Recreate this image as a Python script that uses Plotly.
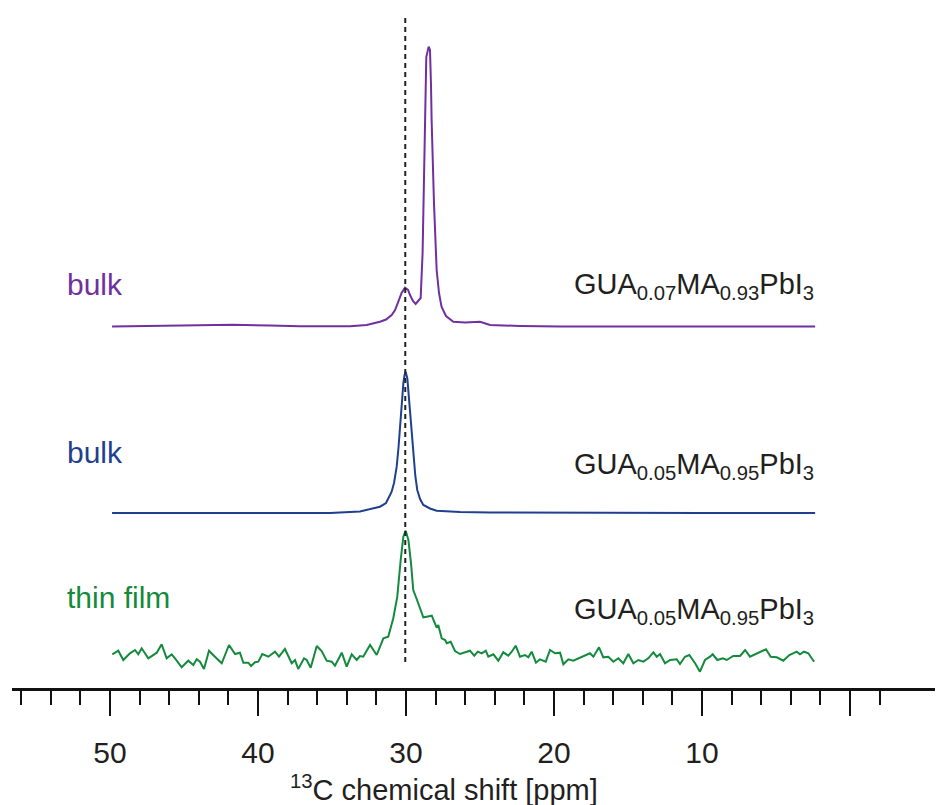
import plotly.graph_objects as go

# ---------------- data ----------------
# GUA0.07MA0.93PbI3 bulk (purple)
purple_ppm = [49.86, 47.30, 43.92, 41.69, 39.19, 37.16, 33.78, 32.66, 31.76, 31.35, 30.97, 30.74,
              30.52, 30.30, 30.07, 29.86, 29.73, 29.53, 29.35, 29.16, 29.01, 28.88, 28.76, 28.68,
              28.63, 28.47, 28.38, 28.31, 28.27, 28.11, 27.93, 27.77, 27.60, 27.30, 26.80, 26.01,
              25.00, 24.32, 22.30, 19.59, 15.54, 10.14, 6.08, 2.36]
purple_int = [-0.5, 0, 0.8, 1.2, 0.5, -0.3, -0.3, 1, 4.3, 6.5, 11, 16,
              24.3, 33, 38.3, 36, 31, 25, 22, 25, 28, 73, 156, 230,
              269, 279.3, 276, 240, 206, 123, 56, 33, 19.3, 10, 4.3, 3.5,
              4.3, 1, 0, -0.5, -0.5, -0.3, -0.7, -0.5]

# GUA0.05MA0.95PbI3 bulk (blue)
blue_ppm = [49.86, 40.54, 35.14, 33.11, 31.76, 31.35, 30.97, 30.81, 30.63, 30.51, 30.41, 30.29,
            30.18, 30.10, 30.02, 29.91, 29.82, 29.73, 29.61, 29.50, 29.37, 29.24, 29.05, 28.83,
            28.38, 27.93, 26.35, 24.32, 16.89, 10.14, 2.36]
blue_int = [0, 0.3, 0, 1.5, 6.3, 10, 21.3, 30, 46.3, 65, 86.3, 105,
            129.7, 138, 141, 134.7, 118, 99.7, 78, 56.3, 37, 23, 14, 8,
            4.5, 2.3, 1, 0.5, 0, 0, 0]

# GUA0.05MA0.95PbI3 thin film (green)
green_ppm = [49.84, 49.44, 49.10, 48.65, 48.31, 48.09, 47.86, 47.41, 46.84, 46.51, 46.17, 45.83,
             45.49, 45.16, 44.71, 44.37, 44.14, 43.92, 43.65, 43.31, 42.91, 42.45, 41.96, 41.55,
             41.22, 40.99, 40.66, 40.47, 40.20, 39.98, 39.71, 39.30, 38.85, 38.58, 38.18, 37.72,
             37.50, 37.28, 36.89, 36.71, 36.44, 36.03, 35.70, 35.36, 35.02, 34.80, 34.34, 34.01,
             33.67, 33.33, 33.11, 32.89, 32.43, 31.98, 31.53, 31.20, 30.86, 30.59, 30.36, 30.18,
             30.02, 29.84, 29.66, 29.51, 29.28, 28.83, 28.60, 28.26, 27.93, 27.82, 27.59, 27.36,
             27.25, 26.98, 26.69, 26.35, 25.68, 25.39, 25.15, 24.89, 24.61, 24.44, 24.10, 23.76,
             23.43, 23.09, 22.86, 22.59, 22.30, 21.96, 21.74, 21.51, 21.22, 20.95, 20.56, 20.27,
             19.93, 19.59, 19.37, 19.03, 18.70, 18.13, 17.57, 17.34, 16.96, 16.67, 16.33, 15.99,
             15.66, 15.32, 14.98, 14.64, 14.30, 13.97, 13.63, 13.29, 13.06, 12.84, 12.50, 12.16,
             11.71, 11.49, 11.15, 10.86, 10.47, 10.14, 9.80, 9.46, 9.28, 8.97, 8.60, 8.33,
             7.89, 7.43, 7.09, 6.76, 6.20, 5.68, 5.36, 4.95, 4.51, 4.10, 3.60, 3.38,
             3.11, 2.82, 2.43]
green_int = [5.7, 9.3, 0, 6.7, 10, 5.7, 11.7, 1.7, 7.3, 15.7, 1.7, 5.7,
             -0.7, -7.3, -0.7, -5, 0.7, -1.7, -9, 9.3, 3.3, -3.3, 15, 6,
             7.3, -2.7, -2.7, -6, -2.3, -1.7, 6, 3.3, 8.3, 3.3, 11, -3.3,
             0, -9, 1.7, 0, -7.7, 14, 9, -0.7, -1.7, -5.7, 7.3, -6.7,
             5.7, 0, 4, 3.3, 15, 5, 21.7, 23.3, 41.7, 63.3, 100, 123.3,
             129.3, 120, 96.7, 70, 61, 42.7, 43.3, 44.3, 32.3, 35, 21.7, 20,
             16.7, 18.3, 9, 6, 9.3, 4.3, 8.3, 6.7, 9.3, 3.3, 5.7, -0.7,
             7.7, 4.3, 8.3, 14.3, 3.3, 5, 2.7, 8.3, -2.7, 0.7, -1.7, 10,
             6.7, 7.3, -4.3, 0.7, -0.7, 3.3, 6.7, 3.3, 12.7, 2.7, 3.3, -1.7,
             1.7, -3.3, 6, -3.3, 0, -1.7, 1.7, 7.7, 3.3, 6, -3.3, 0,
             0.7, -4, 3.3, 5, -3.3, -11.7, 0, 3.3, 5.7, 0, 1.7, 0,
             4, 4, 10, 3.3, 7.3, 10.7, 3.3, 2.7, -0.7, 5, 8.3, 5.7,
             8.3, 6.7, -1.7]

# stacking offsets (vertical positions of each spectrum's baseline)
offset_purple = 362
offset_blue = 175
offset_green = 28

reference_ppm = 30.05

tick_vals = [50, 40, 30, 20, 10, 0]
tick_text = ["50", "40", "30", "20", "10", ""]
minor_vals = [56, 54, 52, 48, 46, 44, 42, 38, 36, 34, 32, 28, 26, 24, 22, 18, 16, 14, 12,
              8, 6, 4, 2, -2]

PURPLE = "#7030A0"
BLUE = "#1F3F8F"
GREEN = "#138A3C"
TEXT = "#231F20"
FONT = "Liberation Sans, Arial, sans-serif"

fig = go.Figure()

def add_spec(ppm, inten, off, color):
    fig.add_trace(go.Scatter(x=ppm, y=[v + off for v in inten], mode="lines",
                             line=dict(color=color, width=2), hoverinfo="skip",
                             showlegend=False))

add_spec(purple_ppm, purple_int, offset_purple, PURPLE)
add_spec(blue_ppm, blue_int, offset_blue, BLUE)
add_spec(green_ppm, green_int, offset_green, GREEN)

# dashed reference line
fig.add_trace(go.Scatter(x=[reference_ppm, reference_ppm], y=[26, 673], mode="lines",
                         line=dict(color="#222222", width=2, dash="5px,4px"),
                         hoverinfo="skip", showlegend=False))

def label(x, y, text, color, xanchor, size=30):
    fig.add_annotation(x=x, y=y, xref="x", yref="y", text=text, showarrow=False,
                       xanchor=xanchor, yanchor="middle",
                       font=dict(family=FONT, size=size, color=color))

label(53.05, 404, "bulk", PURPLE, "left")
label(53.05, 236, "bulk", BLUE, "left")
label(53.05, 91, "thin film", GREEN, "left")
label(2.3, 402, "GUA<sub>0.07</sub>MA<sub>0.93</sub>PbI<sub>3</sub>", TEXT, "right", 29)
label(2.3, 222, "GUA<sub>0.05</sub>MA<sub>0.95</sub>PbI<sub>3</sub>", TEXT, "right", 29)
label(2.3, 77, "GUA<sub>0.05</sub>MA<sub>0.95</sub>PbI<sub>3</sub>", TEXT, "right", 29)

# axis title
fig.add_annotation(x=27.4, y=-0.147, xref="x", yref="paper",
                   text="<sup>13</sup>C chemical shift [ppm]", showarrow=False,
                   xanchor="center", yanchor="middle",
                   font=dict(family=FONT, size=29, color=TEXT))

# page body has an 8px default margin: figure is sized to fit the window
fig.update_layout(
    width=935, height=797,
    margin=dict(l=4, r=0, t=2, b=117),
    paper_bgcolor="white", plot_bgcolor="white",
    xaxis=dict(range=[56.62, -6.28], showgrid=False, zeroline=False,
               showline=True, linecolor="#111111", linewidth=2.5,
               ticks="outside", ticklen=25, tickwidth=2, tickcolor="#111111",
               tickmode="array", tickvals=tick_vals, ticktext=tick_text,
               ticklabelstandoff=11,
               tickfont=dict(family=FONT, size=30, color=TEXT),
               minor=dict(tickmode="array", tickvals=minor_vals, ticks="outside",
                          ticklen=14, tickwidth=2, tickcolor="#111111", showgrid=False)),
    yaxis=dict(range=[0, 678], visible=False, showgrid=False, zeroline=False),
)

fig.write_html("out.html")
